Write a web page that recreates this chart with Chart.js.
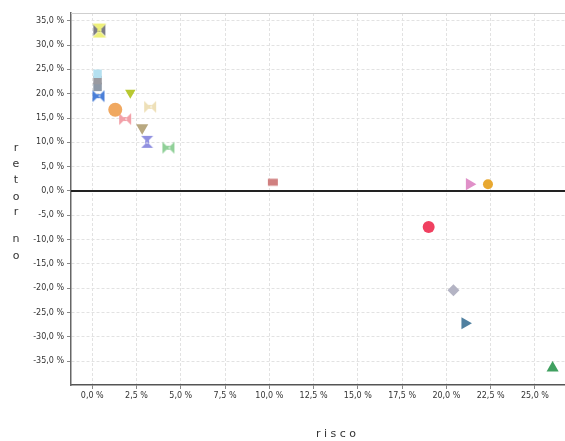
<!DOCTYPE html>
<html lang="pt">
<head>
<meta charset="UTF-8">
<title>risco x retorno</title>
<script src="https://cdn.jsdelivr.net/npm/chart.js"></script>
<style>
  html, body { margin: 0; padding: 0; background: #fff; }
  #wrap { width: 565px; height: 441px; }
  canvas { display: block; }
</style>
</head>
<body>
<div id="wrap"><canvas id="grafico" width="565" height="441"></canvas></div>
<script>
// dados: risco (x) e retorno (y), em %
const risco   = [0.4, 0.4, 0.3, 0.3, 0.3, 0.35, 2.15, 3.27, 1.3, 1.86, 2.82, 3.1, 4.3, 10.2, 21.3, 22.35, 19.0, 20.4, 21.05, 26.0];
const retorno = [33.0, 33.1, 24.1, 22.8, 21.4, 19.5, 20.2, 17.3, 16.7, 14.8, 13.0, 10.1, 8.9, 1.8, 1.4, 1.4, -7.4, -20.4, -27.2, -36.4];

// estilo de cada ponto
const cores   = ['#eef07a', '#7d7d85', '#b4e0f0', '#9a9aa0', '#8f9aa8', '#4a7fd8', '#b8c830', '#eee0b8', '#f0a860', '#f2a0a8',
                 '#b8a880', '#9090e0', '#90d098', '#d08080', '#e090c8', '#e8a830', '#f04060', '#b4b4c4', '#5080a0', '#40a060'];
const formas  = ['ampulheta', 'gravata', 'rect', 'rect', 'rect', 'gravata', 'trianguloBaixo', 'gravata', 'circle', 'gravata',
                 'trianguloBaixo', 'ampulheta', 'gravata', 'retangulo', 'trianguloDir', 'circle', 'circle', 'rectRot', 'trianguloDir', 'triangle'];
const raios   = [7, 6, 6, 6, 6, 6, 6, 6, 7, 6, 7, 6, 6, 5, 7, 5, 6, 6, 7, 7];

function desenho(tipo, cor, r) {
  const c = document.createElement('canvas');
  const s = r * 2 + 2;
  c.width = s; c.height = s;
  const g = c.getContext('2d');
  g.fillStyle = cor;
  const m = s / 2;
  g.beginPath();
  if (tipo === 'gravata') {
    g.moveTo(1, 1); g.lineTo(m, m); g.lineTo(1, s - 1); g.closePath();
    g.moveTo(s - 1, 1); g.lineTo(m, m); g.lineTo(s - 1, s - 1); g.closePath();
    g.rect(m - 1.5, m - 2, 3, 4);
  } else if (tipo === 'ampulheta') {
    g.moveTo(1, 1); g.lineTo(s - 1, 1); g.lineTo(m, m); g.closePath();
    g.moveTo(1, s - 1); g.lineTo(s - 1, s - 1); g.lineTo(m, m); g.closePath();
    g.rect(m - 2, m - 1.5, 4, 3);
  } else if (tipo === 'retangulo') {
    g.rect(1, m - 3.5, s - 2, 7);
  }
  g.fill();
  return c;
}

const conjuntos = risco.map((x, i) => {
  let estilo = formas[i];
  let rot = 0;
  if (estilo === 'gravata' || estilo === 'ampulheta' || estilo === 'retangulo') {
    estilo = desenho(estilo, cores[i], raios[i]);
  } else if (estilo === 'trianguloBaixo') {
    estilo = 'triangle'; rot = 180;
  } else if (estilo === 'trianguloDir') {
    estilo = 'triangle'; rot = 90;
  }
  return {
    label: 'p' + i,
    data: [{ x: x, y: retorno[i] }],
    pointStyle: estilo,
    rotation: rot,
    pointRadius: raios[i],
    backgroundColor: cores[i],
    borderColor: cores[i],
    borderWidth: 0
  };
});

const rotuloPct = v => v.toFixed(1).replace('.', ',') + ' %';

const extras = {
  id: 'extras',
  beforeDatasetsDraw(chart) {
    const ctx = chart.ctx, a = chart.chartArea;
    const y0 = chart.scales.y.getPixelForValue(0);
    ctx.save();
    ctx.strokeStyle = '#cfcfcf';
    ctx.lineWidth = 1;
    ctx.beginPath();
    ctx.moveTo(a.left, a.top + 0.5); ctx.lineTo(a.right, a.top + 0.5);
    ctx.stroke();
    ctx.strokeStyle = '#222';
    ctx.lineWidth = 2;
    ctx.beginPath();
    ctx.moveTo(a.left, y0); ctx.lineTo(a.right, y0);
    ctx.stroke();
    ctx.restore();
  },
  afterDraw(chart) {
    const ctx = chart.ctx;
    const letras = 'retorno'.split('');
    const pos = [148, 164, 180, 197, 212, 239, 256];
    ctx.save();
    ctx.fillStyle = '#333';
    ctx.font = '11px "DejaVu Sans"';
    ctx.textAlign = 'center';
    ctx.textBaseline = 'middle';
    letras.forEach((l, i) => ctx.fillText(l, 16, pos[i]));
    ctx.fillText('r i s c o', 336, 434);
    ctx.restore();
  }
};

new Chart(document.getElementById('grafico'), {
  type: 'scatter',
  data: { datasets: conjuntos },
  plugins: [extras],
  options: {
    responsive: false,
    animation: false,
    clip: false,
    layout: { autoPadding: false, padding: { top: 13, right: 0, left: 0, bottom: 0 } },
    plugins: { legend: { display: false }, tooltip: { enabled: false } },
    scales: {
      x: {
        type: 'linear',
        min: -1.2,
        max: 26.7,
        afterFit(s) { s.height = 56; s.paddingRight = 0; s.paddingLeft = 0; },
        ticks: {
          stepSize: 2.5,
          includeBounds: false,
          padding: 2,
          color: '#333',
          font: { family: 'DejaVu Sans', size: 8 },
          maxRotation: 0,
          callback: v => rotuloPct(v)
        },
        grid: { color: '#e2e2e2', tickLength: 4, tickColor: '#888' },
        border: { color: '#555', width: 1.5, dash: [3, 2] }
      },
      y: {
        type: 'linear',
        min: -39.9,
        max: 36.6,
        afterFit(s) { s.width = 71; s.paddingTop = 0; s.paddingBottom = 0; },
        ticks: {
          stepSize: 5,
          includeBounds: false,
          padding: 3,
          color: '#333',
          font: { family: 'DejaVu Sans', size: 8 },
          callback: v => rotuloPct(v)
        },
        grid: { color: '#e2e2e2', tickLength: 4, tickColor: '#888' },
        border: { color: '#666', width: 1.5, dash: [3, 2] }
      }
    }
  }
});
</script>
</body>
</html>
